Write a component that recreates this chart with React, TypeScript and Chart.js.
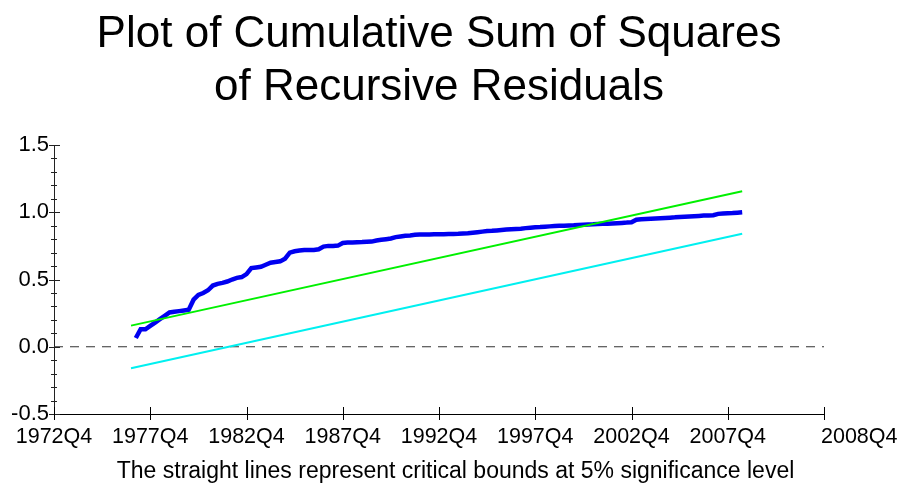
import { useEffect, useRef } from "react";
import { Chart, registerables } from "chart.js";

Chart.register(...registerables);

// ---- text ----
const TITLE_LINES = ["Plot of Cumulative Sum of Squares", "of Recursive Residuals"];
const FOOTNOTE = "The straight lines represent critical bounds at 5% significance level";

// ---- x axis: quarters counted from 1972Q4 ----
const X_MIN = 0;
const X_MAX = 160;
const X_TICK_QUARTERS = [0, 20, 40, 60, 80, 100, 120, 140, 160];
const X_TICK_LABELS = ["1972Q4", "1977Q4", "1982Q4", "1987Q4", "1992Q4", "1997Q4", "2002Q4", "2007Q4", "2008Q4"];

// ---- y axis ----
const Y_MIN = -0.5;
const Y_MAX = 1.5;
const Y_STEP = 0.5;
const Y_MINOR_STEP = 0.1;

// ---- CUSUM of squares, quarterly from 1977Q1 (quarter 17) to 2008Q3 (quarter 143) ----
const CUSUMSQ_START = 17;
const CUSUMSQ = [
  0.065, 0.13, 0.13, 0.155, 0.18, 0.205, 0.23, 0.255, 0.26, 0.265,
  0.27, 0.275, 0.35, 0.385, 0.40, 0.42, 0.455, 0.468, 0.475, 0.485,
  0.50, 0.512, 0.518, 0.54, 0.585, 0.59, 0.595, 0.61, 0.625, 0.63,
  0.635, 0.655, 0.70, 0.71, 0.715, 0.72, 0.72, 0.72, 0.725, 0.745,
  0.75, 0.75, 0.752, 0.772, 0.775, 0.776, 0.777, 0.778, 0.78, 0.782,
  0.79, 0.795, 0.80, 0.805, 0.815, 0.82, 0.825, 0.828, 0.832, 0.834,
  0.835, 0.835, 0.836, 0.836, 0.837, 0.838, 0.839, 0.84, 0.842, 0.844,
  0.848, 0.852, 0.856, 0.86, 0.862, 0.865, 0.868, 0.871, 0.874, 0.876,
  0.878, 0.882, 0.885, 0.888, 0.89, 0.893, 0.895, 0.897, 0.899, 0.90,
  0.902, 0.903, 0.905, 0.907, 0.909, 0.91, 0.912, 0.914, 0.915, 0.917,
  0.919, 0.921, 0.923, 0.926, 0.945, 0.948, 0.95, 0.952, 0.954, 0.956,
  0.958, 0.96, 0.962, 0.965, 0.967, 0.969, 0.971, 0.973, 0.975, 0.976,
  0.978, 0.988, 0.99, 0.992, 0.994, 0.997, 1.0,
];

// ---- 5% critical bounds (straight lines) ----
const BOUND_QUARTERS = [16, 143];
const UPPER_BOUND = [0.157, 1.156];
const LOWER_BOUND = [-0.16, 0.84];

// ---- zero reference line ----
const ZERO_QUARTERS = [0, 160];
const ZERO_VALUES = [0, 0];

const FONT = "'Liberation Sans', Arial, sans-serif";
const X_TICK_FONT_SIZE = 21.5;
const Y_TICK_FONT_SIZE = 22;

const axisDecor = {
  id: "axisDecor",
  afterDraw(chart: any) {
    const { ctx } = chart;
    const xs = chart.scales.x;
    const ys = chart.scales.y;
    const axX = xs.left;
    const axY = ys.bottom;
    ctx.save();
    ctx.strokeStyle = "#222";
    ctx.lineWidth = 1;
    // y ticks (major + minor), crossing the axis
    const n = Math.round((Y_MAX - Y_MIN) / Y_MINOR_STEP);
    const per = Math.round(Y_STEP / Y_MINOR_STEP);
    for (let i = 0; i <= n; i++) {
      const v = Y_MIN + i * Y_MINOR_STEP;
      const py = Math.round(ys.getPixelForValue(v)) + 0.5;
      const major = i % per === 0;
      ctx.beginPath();
      ctx.moveTo(axX - (major ? 5 : 3), py);
      ctx.lineTo(axX + (major ? 6 : 3), py);
      ctx.stroke();
    }
    // x ticks, crossing the axis
    ctx.strokeStyle = "#000";
    X_TICK_QUARTERS.forEach((q) => {
      const px = Math.round(xs.getPixelForValue(q)) + 0.5;
      ctx.beginPath();
      ctx.moveTo(px, axY - 7);
      ctx.lineTo(px, axY + 6);
      ctx.stroke();
    });
    // last x label, drawn left-aligned at the final tick, on the same row as the others
    const last = X_TICK_QUARTERS.length - 1;
    const items = xs.getLabelItems ? xs.getLabelItems() : [];
    const ref = items && items[0];
    let ty = xs.top + 22;
    let baseline = "middle";
    if (ref && ref.options) {
      ty = ref.options.translation[1] + (ref.textOffset || 0);
      baseline = ref.options.textBaseline || "middle";
    }
    ctx.fillStyle = "#000";
    ctx.font = `${X_TICK_FONT_SIZE}px ${FONT}`;
    ctx.textAlign = "left";
    ctx.textBaseline = baseline;
    ctx.fillText(X_TICK_LABELS[last], xs.getPixelForValue(X_TICK_QUARTERS[last]) - 3, ty);
    ctx.restore();
  },
};

export default function App() {
  const ref = useRef<HTMLCanvasElement | null>(null);

  useEffect(() => {
    document.body.style.margin = "0";
    if (!ref.current) return;
    const chart = new Chart(ref.current, {
      type: "line",
      data: {
        datasets: [
          {
            label: "Upper bound",
            data: BOUND_QUARTERS.map((q, i) => ({ x: q, y: UPPER_BOUND[i] })),
            borderColor: "#00f000",
            borderWidth: 2,
            pointRadius: 0,
            order: 0,
          },
          {
            label: "CUSUM of squares",
            data: CUSUMSQ.map((v, i) => ({ x: CUSUMSQ_START + i, y: v })),
            borderColor: "#0000f0",
            borderWidth: 4.5,
            pointRadius: 0,
            tension: 0,
            order: 1,
          },
          {
            label: "Lower bound",
            data: BOUND_QUARTERS.map((q, i) => ({ x: q, y: LOWER_BOUND[i] })),
            borderColor: "#00f0f0",
            borderWidth: 2,
            pointRadius: 0,
            order: 2,
          },
          {
            label: "Zero",
            data: ZERO_QUARTERS.map((q, i) => ({ x: q, y: ZERO_VALUES[i] })),
            borderColor: "#333",
            borderWidth: 1.2,
            borderDash: [9, 7],
            pointRadius: 0,
            order: 3,
          },
        ],
      },
      options: {
        animation: false,
        responsive: false,
        layout: { padding: 0 },
        plugins: {
          legend: { display: false },
          tooltip: { enabled: false },
          title: {
            display: true,
            fullSize: false,
            text: TITLE_LINES,
            color: "#000",
            font: { family: FONT, size: 44, weight: "normal", lineHeight: 1.216 },
            padding: { top: 8, bottom: 30 },
          },
          subtitle: {
            display: true,
            position: "bottom",
            text: FOOTNOTE,
            color: "#000",
            font: { family: FONT, size: 23, weight: "normal", lineHeight: 1.2 },
            padding: { top: 4, bottom: 10 },
          },
        },
        scales: {
          x: {
            type: "linear",
            min: X_MIN,
            max: X_MAX,
            grid: { display: false, tickLength: 0 },
            border: { display: true, color: "#000", width: 1 },
            afterFit: (s: any) => {
              s.height = 39.4;
            },
            afterBuildTicks: (s: any) => {
              s.ticks = X_TICK_QUARTERS.map((q) => ({ value: q }));
            },
            ticks: {
              autoSkip: false,
              maxRotation: 0,
              padding: 10,
              color: "#000",
              font: { family: FONT, size: X_TICK_FONT_SIZE },
              callback: (v: any) => {
                const idx = X_TICK_QUARTERS.indexOf(Number(v));
                return idx >= 0 && idx < X_TICK_QUARTERS.length - 1 ? X_TICK_LABELS[idx] : "";
              },
            },
          },
          y: {
            min: Y_MIN,
            max: Y_MAX,
            grid: { display: false, tickLength: 0 },
            border: { display: true, color: "#222", width: 1 },
            afterFit: (s: any) => {
              s.width = 54;
            },
            ticks: {
              stepSize: Y_STEP,
              padding: 5,
              color: "#000",
              font: { family: FONT, size: Y_TICK_FONT_SIZE },
              callback: (v: any) => Number(v).toFixed(1),
            },
          },
          yR: {
            position: "right",
            display: true,
            grid: { display: false },
            border: { display: false },
            ticks: { display: false },
            afterFit: (s: any) => {
              s.width = 87;
            },
          },
        },
      },
      plugins: [axisDecor],
    });
    return () => chart.destroy();
  }, []);

  return (
    <div style={{ width: 911, height: 495 }}>
      <canvas ref={ref} width={911} height={495} style={{ display: "block" }} />
    </div>
  );
}
